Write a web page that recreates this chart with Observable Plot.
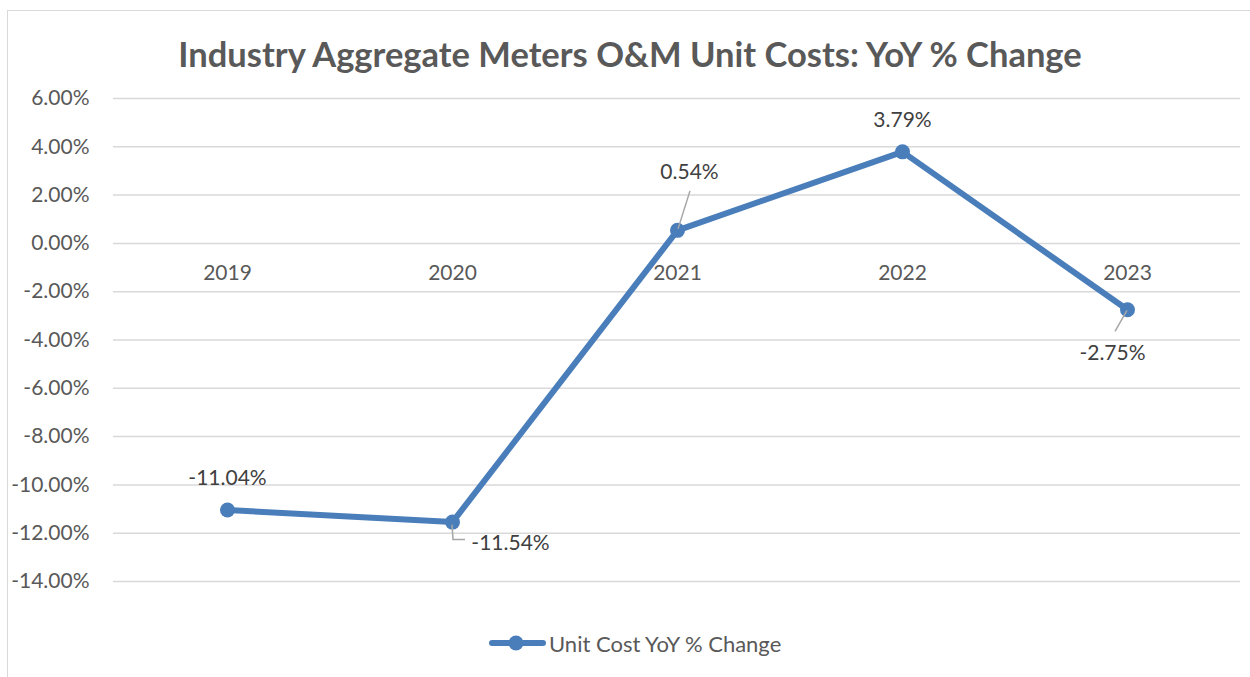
<!DOCTYPE html>
<html><head><meta charset="utf-8">
<script src="https://cdn.jsdelivr.net/npm/d3@7"></script>
<script src="https://cdn.jsdelivr.net/npm/@observablehq/plot@0.6"></script>
<style>
body{margin:0;background:#fff;}
#wrap{position:relative;width:1250px;height:677px;overflow:hidden;font-family:Lato,"Open Sans",sans-serif;background:#fff;}
#border{position:absolute;left:7px;top:10px;width:1300px;height:700px;border-left:1.5px solid #d9d9d9;border-top:1.5px solid #d9d9d9;}
#title{position:absolute;left:0;width:1260px;top:33px;text-align:center;font-size:34.5px;font-weight:700;color:#595959;line-height:42px;}
#chart{position:absolute;left:0;top:0;}
#legend{position:absolute;left:489px;top:630px;height:26px;display:flex;align-items:center;font-size:22px;color:#595959;}
#legend svg{margin-right:3px;}
</style></head>
<body>
<div id="wrap">
<div id="border"></div>
<div id="chart"></div>
<div id="title">Industry Aggregate Meters O&amp;M Unit Costs: YoY % Change</div>
<div id="legend"><svg width="57" height="20"><line x1="3" y1="10" x2="54" y2="10" stroke="#4a7ebb" stroke-width="6" stroke-linecap="round"/><circle cx="27" cy="10" r="7.5" fill="#4a7ebb"/></svg><span>Unit Cost YoY % Change</span></div>
</div>
<script>
const years = ["2019", "2020", "2021", "2022", "2023"];
const values = [-11.04, -11.54, 0.54, 3.79, -2.75];
const labels = ["-11.04%", "-11.54%", "0.54%", "3.79%", "-2.75%"];
const yTicks = [6, 4, 2, 0, -2, -4, -6, -8, -10, -12, -14];
// label offsets (px) relative to point
const labelDx = [0, 58, 12, 0, -15];
const labelDy = [-32, 21, -58, -32, 43];

const data = years.map((y, i) => ({year: y, value: values[i], label: labels[i]}));
const blue = "#4a7ebb";

const plot = Plot.plot({
  width: 1250, height: 677,
  marginTop: 98, marginBottom: 96, marginLeft: 113, marginRight: 10,
  x: {type: "point", domain: years, padding: 0.5, axis: null},
  y: {domain: [-14, 6], axis: null},
  style: {fontFamily: "Lato, 'Open Sans', sans-serif", background: "transparent", color: "#595959"},
  marks: [
    Plot.gridY(yTicks, {stroke: "#d9d9d9", strokeOpacity: 1, strokeWidth: 1.5}),
    Plot.axisY(yTicks, {tickSize: 0, tickPadding: 24, label: null, tickFormat: d => d.toFixed(2) + "%", fontSize: 21}),
    Plot.text(years, {x: d => d, y: 0, dy: 30, fontSize: 21, fill: "#595959"}),
    Plot.line(data, {x: "year", y: "value", stroke: blue, strokeWidth: 6, strokeLinejoin: "round"}),
    Plot.dot(data, {x: "year", y: "value", r: 7.5, fill: blue}),
    ...data.map((d, i) => Plot.text([d], {x: "year", y: "value", text: "label", dx: labelDx[i], dy: labelDy[i], fontSize: 21, fill: "#404040"}))
  ]
});
document.getElementById("chart").appendChild(plot);

// leader lines
const sx = plot.scale("x"), sy = plot.scale("y");
const leaders = [
  {i: 1, pts: [[0, 3], [1, 18], [13, 18]]},
  {i: 2, pts: [[1, -1], [13, -39]]},
  {i: 4, pts: [[0, 1], [-12, 22]]}
];
const svg = d3.select(plot);
leaders.forEach(l => {
  const px = sx.apply(years[l.i]), py = sy.apply(values[l.i]);
  svg.append("path")
    .attr("d", d3.line()(l.pts.map(p => [px + p[0], py + p[1]])))
    .attr("fill", "none").attr("stroke", "#a6a6a6").attr("stroke-width", 1.5);
});
</script>
</body></html>
